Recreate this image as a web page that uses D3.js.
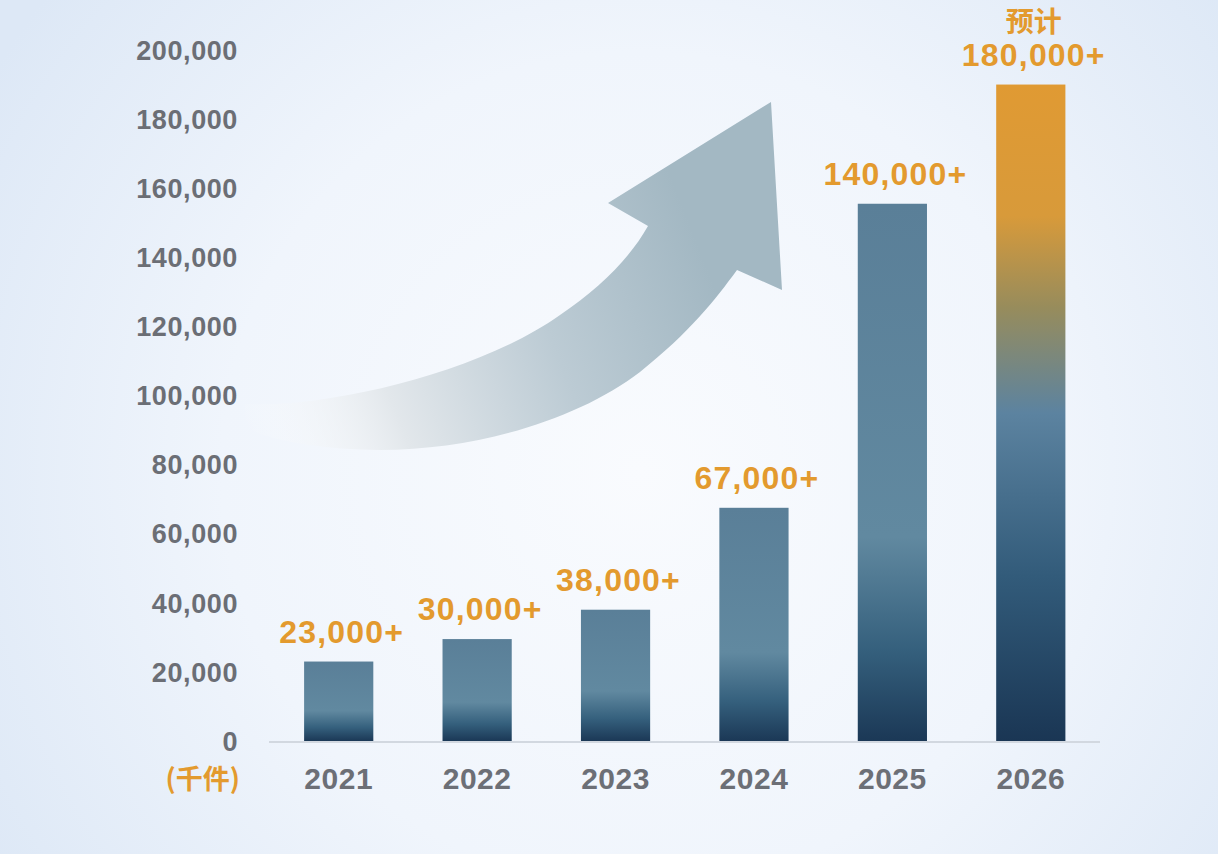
<!DOCTYPE html>
<html>
<head>
<meta charset="utf-8">
<script src="https://cdn.jsdelivr.net/npm/d3@7"></script>
<style>
  html, body { margin: 0; padding: 0; overflow: hidden; }
  svg { display: block; }
</style>
</head>
<body>
<svg id="chart" width="1218" height="854"></svg>
<script>
// 数据
var years = ["2021", "2022", "2023", "2024", "2025", "2026"];
var barValues = [23000, 29500, 38000, 67500, 155500, 190000];
var barLabels = ["23,000+", "30,000+", "38,000+", "67,000+", "140,000+", "180,000+"];
var yTicks = [0, 20000, 40000, 60000, 80000, 100000, 120000, 140000, 160000, 180000, 200000];
var unitLabel = "(千件)";
var forecastLabel = "预计";

var W = 1218, H = 854;
var svg = d3.select("#chart");
var defs = svg.append("defs");

// 背景
var bg = defs.append("radialGradient").attr("id", "bg")
  .attr("gradientUnits", "userSpaceOnUse")
  .attr("cx", 640).attr("cy", 470).attr("r", 760);
bg.append("stop").attr("offset", "0").attr("stop-color", "#f9fbfe");
bg.append("stop").attr("offset", "0.55").attr("stop-color", "#f0f5fc");
bg.append("stop").attr("offset", "1").attr("stop-color", "#dde8f6");
svg.append("rect").attr("width", W).attr("height", H).attr("fill", "url(#bg)");

// 柱子渐变
var gBlue = defs.append("linearGradient").attr("id", "gBlue")
  .attr("x1", 0).attr("y1", 0).attr("x2", 0).attr("y2", 1);
gBlue.append("stop").attr("offset", "0").attr("stop-color", "#5a7f98");
gBlue.append("stop").attr("offset", "0.62").attr("stop-color", "#6189a0");
gBlue.append("stop").attr("offset", "0.83").attr("stop-color", "#35607d");
gBlue.append("stop").attr("offset", "1").attr("stop-color", "#1b3856");

var gOrange = defs.append("linearGradient").attr("id", "gOrange")
  .attr("x1", 0).attr("y1", 0).attr("x2", 0).attr("y2", 1);
gOrange.append("stop").attr("offset", "0").attr("stop-color", "#e09a33");
gOrange.append("stop").attr("offset", "0.2").attr("stop-color", "#d89a3a");
gOrange.append("stop").attr("offset", "0.34").attr("stop-color", "#978c5c");
gOrange.append("stop").attr("offset", "0.5").attr("stop-color", "#5c83a0");
gOrange.append("stop").attr("offset", "0.75").attr("stop-color", "#325b7a");
gOrange.append("stop").attr("offset", "1").attr("stop-color", "#1a3654");

// 箭头渐变
var gArrow = defs.append("linearGradient").attr("id", "gArrow")
  .attr("gradientUnits", "userSpaceOnUse")
  .attr("x1", 245).attr("y1", 430).attr("x2", 700).attr("y2", 250);
gArrow.append("stop").attr("offset", "0").attr("stop-color", "#ffffff").attr("stop-opacity", 0);
gArrow.append("stop").attr("offset", "0.3").attr("stop-color", "#e2e7eb");
gArrow.append("stop").attr("offset", "0.65").attr("stop-color", "#bccbd4");
gArrow.append("stop").attr("offset", "1").attr("stop-color", "#a3b8c3");

svg.append("path")
  .attr("d", "M245,404 C330,408 480,372 560,315 C600,288 630,258 648,226 L608,203 L771,102 L782,290 L737,270 " +
             "C715,300 690,332 640,372 C580,418 480,450 380,450 C320,450 270,440 245,428 Z")
  .attr("fill", "url(#gArrow)");

// 比例尺
var x = d3.scaleBand().domain(years).range([269.5, 1100]).paddingInner(0.5).paddingOuter(0.25);
var y = d3.scaleLinear().domain([0, 200000]).range([741, 50]);

// y轴刻度文字
svg.append("g").selectAll("text")
  .data(yTicks).enter().append("text")
  .attr("x", 238).attr("y", function(d){ return y(d); })
  .attr("dy", "0.36em")
  .attr("text-anchor", "end")
  .attr("font-family", "Liberation Sans, Arial, sans-serif")
  .attr("font-weight", "bold").attr("font-size", 27)
  .attr("letter-spacing", 0.6)
  .attr("fill", "#6b6e75")
  .text(function(d){ return d3.format(",")(d); });

// 基线
svg.append("line")
  .attr("x1", 269).attr("x2", 1100).attr("y1", y(0) + 1).attr("y2", y(0) + 1)
  .attr("stroke", "#d2d8e0").attr("stroke-width", 2);

// 柱子
svg.append("g").selectAll("rect")
  .data(barValues).enter().append("rect")
  .attr("x", function(d, i){ return x(years[i]); })
  .attr("y", function(d){ return y(d); })
  .attr("width", x.bandwidth())
  .attr("height", function(d){ return y(0) - y(d); })
  .attr("fill", function(d, i){ return i === years.length - 1 ? "url(#gOrange)" : "url(#gBlue)"; });

// 柱顶数值
svg.append("g").selectAll("text")
  .data(barValues).enter().append("text")
  .attr("x", function(d, i){ return x(years[i]) + x.bandwidth() / 2 + 3; })
  .attr("y", function(d){ return y(d) - 19; })
  .attr("text-anchor", "middle")
  .attr("font-family", "Liberation Sans, Arial, sans-serif")
  .attr("font-weight", "bold").attr("font-size", 32)
  .attr("letter-spacing", 1.2)
  .attr("fill", "#e39a2e")
  .text(function(d, i){ return barLabels[i]; });

svg.append("text")
  .attr("x", x("2026") + x.bandwidth() / 2 + 3)
  .attr("y", y(barValues[5]) - 53)
  .attr("text-anchor", "middle")
  .attr("font-family", "Noto Sans CJK SC, sans-serif")
  .attr("font-weight", "bold").attr("font-size", 28)
  .attr("fill", "#e39a2e")
  .text(forecastLabel);

// x轴年份
svg.append("g").selectAll("text")
  .data(years).enter().append("text")
  .attr("x", function(d){ return x(d) + x.bandwidth() / 2; })
  .attr("y", 789)
  .attr("text-anchor", "middle")
  .attr("font-family", "Liberation Sans, Arial, sans-serif")
  .attr("font-weight", "bold").attr("font-size", 30)
  .attr("letter-spacing", 0.5)
  .attr("fill", "#6c6f76")
  .text(function(d){ return d; });

// 单位
svg.append("text")
  .attr("x", 240).attr("y", 789)
  .attr("text-anchor", "end")
  .attr("font-family", "Noto Sans CJK SC, sans-serif")
  .attr("font-weight", "bold").attr("font-size", 27)
  .attr("fill", "#e39a2e")
  .text(unitLabel);
</script>
</body>
</html>
